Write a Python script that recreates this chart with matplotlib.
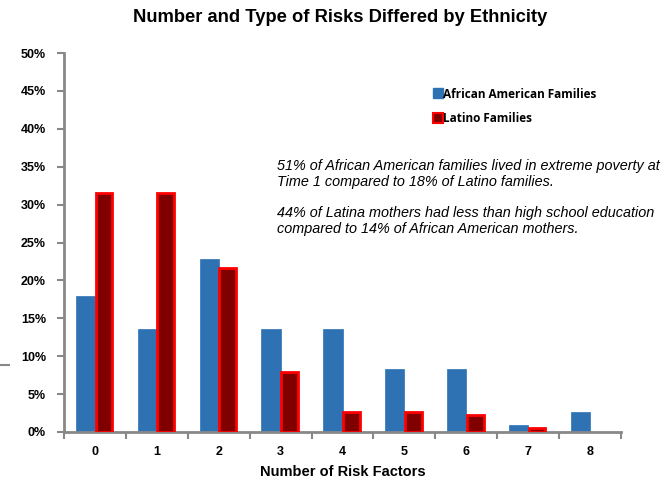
import matplotlib
matplotlib.use("Agg")
import matplotlib.pyplot as plt
import numpy as np
from matplotlib.lines import Line2D

categories = ["0", "1", "2", "3", "4", "5", "6", "7", "8"]
african_american = [17.9, 13.6, 22.8, 13.6, 13.6, 8.3, 8.3, 0.9, 2.7]
latino = [31.5, 31.5, 21.6, 7.9, 2.6, 2.6, 2.2, 0.5, 0.0]
yticks = [0, 5, 10, 15, 20, 25, 30, 35, 40, 45, 50]

fig = plt.figure(figsize=(6.7, 4.84), dpi=100)
ax = fig.add_axes([64/670, 1-432/484, 557/670, (432-53)/484])

x = np.arange(len(categories))
w = 0.31
ax.bar(x - w/2, african_american, width=w, color="#2E72B4", edgecolor="#2E72B4", linewidth=0.5, zorder=2)
lat_x = [xi for xi, v in zip(x, latino) if v > 0]
lat_v = [v for v in latino if v > 0]
ax.bar(np.array(lat_x) + w/2 - 0.01, lat_v, width=w - 0.04, color="#800000", edgecolor="#FF0000", linewidth=2, zorder=3)

ax.set_xlim(-0.5, 8.5)
ax.set_ylim(0, 50)
ax.set_yticks(yticks)
ax.set_yticklabels([f"{t}%" for t in yticks], fontsize=9, fontweight="bold", family="Liberation Sans")
ax.set_xticks(x)
ax.set_xticklabels(categories, fontsize=9, fontweight="bold", family="Liberation Sans")
ax.set_xticks(np.arange(-0.5, 9, 1), minor=True)
ax.tick_params(axis="x", which="major", length=0, pad=10)
ax.tick_params(axis="x", which="minor", length=5, color="#888888", width=1.5, direction="out")
ax.tick_params(axis="y", length=5, color="#888888", width=1.5, direction="out", pad=8)
for s in ["top", "right"]:
    ax.spines[s].set_visible(False)
for s in ["left", "bottom"]:
    ax.spines[s].set_color("#888888")
    ax.spines[s].set_linewidth(2)

ax.set_xlabel("Number of Risk Factors", fontsize=10.5, fontweight="bold", family="Liberation Sans", labelpad=5)

fig.text(340/670, 1-17/484, "Number and Type of Risks Differed by Ethnicity", ha="center", va="center",
         fontsize=13.2, fontweight="bold", family="Liberation Sans")

handles = [
    Line2D([0], [0], marker="s", color="none", markerfacecolor="#2E72B4", markeredgecolor="#2E72B4", markersize=7),
    Line2D([0], [0], marker="s", color="none", markerfacecolor="#800000", markeredgecolor="#FF0000", markeredgewidth=1.5, markersize=6.5),
]
leg = fig.legend(handles, ["African American Families", "Latino Families"], loc="upper left",
                 bbox_to_anchor=(424/670, 1-77/484), frameon=False, handlelength=0.6, handletextpad=0.1,
                 labelspacing=0.95, prop={"family": "Open Sans", "weight": "bold", "size": 8.5})

note = ("51% of African American families lived in extreme poverty at\n"
        "Time 1 compared to 18% of Latino families.\n\n"
        "44% of Latina mothers had less than high school education\n"
        "compared to 14% of African American mothers.")
fig.text(277/670, 1-159/484, note, ha="left", va="top", fontsize=10.4, style="italic",
         family="Liberation Sans", linespacing=1.15)

fig.add_artist(Line2D([0, 9/670], [1-365/484, 1-365/484], color="#888888", linewidth=1.5))

fig.savefig("out.png", dpi=100)
